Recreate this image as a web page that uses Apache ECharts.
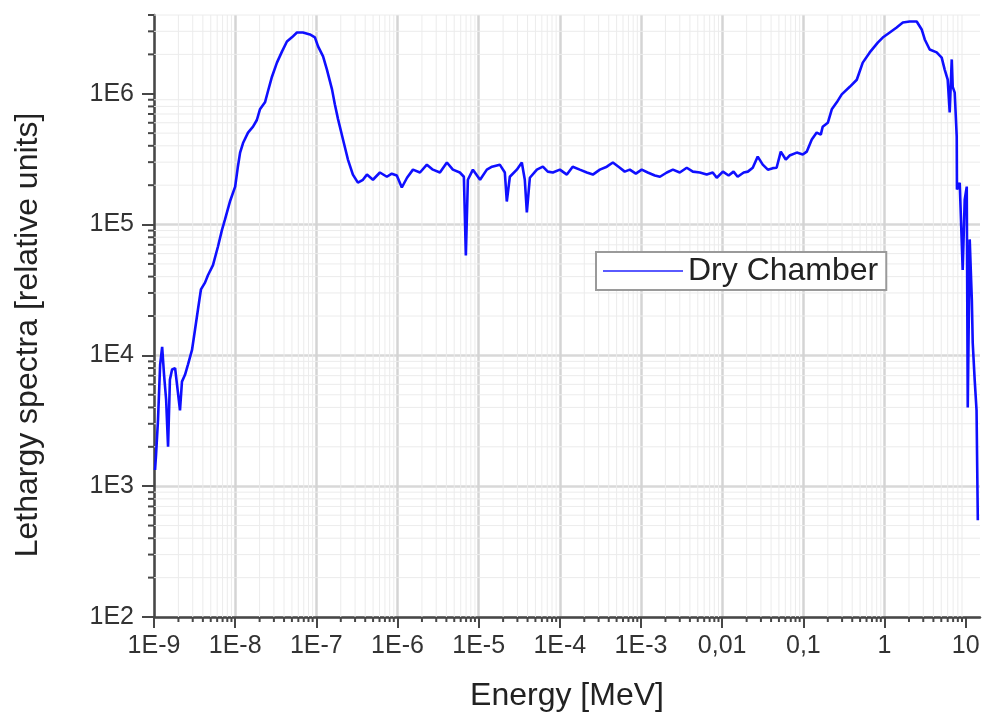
<!DOCTYPE html>
<html>
<head>
<meta charset="utf-8">
<script src="https://cdn.jsdelivr.net/npm/echarts@6/dist/echarts.min.js"></script>
<style>
html, body { margin: 0; padding: 0; background: #fff; }
#chart { width: 983px; height: 719px; }
</style>
</head>
<body>
<div id="chart"></div>
<script>
// Neutron lethargy spectrum, dry chamber
const energyMeV = [
  1.03e-9, 1.06e-9, 1.12e-9, 1.19e-9, 1.26e-9, 1.33e-9, 1.41e-9, 1.49e-9, 1.57e-9, 1.67e-9,
  1.82e-9, 1.92e-9, 2.09e-9, 2.21e-9, 2.41e-9, 2.62e-9, 2.94e-9, 3.2e-9, 3.48e-9, 3.79e-9,
  4.25e-9, 4.62e-9, 5.33e-9, 6.14e-9, 6.88e-9, 7.48e-9, 8.62e-9, 1.0e-8, 1.08e-8, 1.15e-8,
  1.25e-8, 1.44e-8, 1.66e-8, 1.85e-8, 2.02e-8, 2.33e-8, 2.53e-8, 2.84e-8, 3.27e-8, 3.77e-8,
  4.34e-8, 5.0e-8, 5.77e-8, 6.84e-8, 8.34e-8, 9.6e-8, 1.05e-7, 1.21e-7, 1.35e-7, 1.56e-7,
  1.69e-7, 1.85e-7, 2.13e-7, 2.45e-7, 2.82e-7, 3.25e-7, 3.75e-7, 4.2e-7, 4.98e-7, 6.07e-7,
  7.4e-7, 8.5e-7, 9.8e-7, 1.13e-6, 1.31e-6, 1.55e-6, 1.89e-6, 2.3e-6, 2.73e-6, 3.33e-6,
  4.06e-6, 4.81e-6, 5.86e-6, 6.57e-6, 6.95e-6, 7.36e-6, 8.49e-6, 1.04e-5, 1.26e-5, 1.46e-5,
  1.82e-5, 2.1e-5, 2.22e-5, 2.42e-5, 2.95e-5, 3.4e-5, 3.7e-5, 3.92e-5, 4.27e-5, 5.21e-5,
  6.18e-5, 7.1e-5, 8.2e-5, 1.0e-4, 1.22e-4, 1.44e-4, 1.76e-4, 2.15e-4, 2.55e-4, 3.11e-4,
  3.79e-4, 4.5e-4, 5.48e-4, 6.3e-4, 7.27e-4, 8.63e-4, 1.02e-3, 1.21e-3, 1.48e-3, 1.71e-3,
  2.08e-3, 2.47e-3, 3.0e-3, 3.66e-3, 4.35e-3, 5.3e-3, 6.45e-3, 7.65e-3, 8.57e-3, 1.02e-2,
  1.2e-2, 1.38e-2, 1.55e-2, 1.84e-2, 2.07e-2, 2.38e-2, 2.74e-2, 3.16e-2, 3.65e-2, 4.2e-2,
  4.68e-2, 5.27e-2, 6.07e-2, 6.76e-2, 8.3e-2, 9.84e-2, 0.110, 0.127, 0.146, 0.164,
  0.173, 0.20, 0.224, 0.258, 0.297, 0.373, 0.455, 0.539, 0.657, 0.825,
  0.95, 1.16, 1.41, 1.68, 2.04, 2.49, 2.87, 3.13, 3.6, 4.39,
  5.06, 5.51, 6.0, 6.35, 6.73, 6.92, 7.32, 7.75, 7.8, 8.44,
  9.18, 9.72, 10.3, 10.6, 11.2, 11.9, 12.2, 12.9, 13.6, 14.1
];
const lethargy = [
  1.33e3, 1.74e3, 3.2e3, 8.5e3, 1.16e4, 7.1e3, 4.6e3, 2.0e3, 6.5e3, 7.8e3,
  8.0e3, 6.0e3, 3.8e3, 6.3e3, 7.1e3, 8.5e3, 1.1e4, 1.57e4, 2.24e4, 3.2e4,
  3.6e4, 4.1e4, 4.9e4, 6.8e4, 9.1e4, 1.09e5, 1.5e5, 1.95e5, 2.77e5, 3.55e5,
  4.2e5, 5.05e5, 5.6e5, 6.3e5, 7.6e5, 8.6e5, 1.04e6, 1.35e6, 1.73e6, 2.1e6,
  2.51e6, 2.7e6, 2.94e6, 2.94e6, 2.84e6, 2.7e6, 2.3e6, 1.93e6, 1.53e6, 1.08e6,
  8.3e5, 6.4e5, 4.47e5, 3.14e5, 2.41e5, 2.09e5, 2.2e5, 2.41e5, 2.2e5, 2.5e5,
  2.32e5, 2.45e5, 2.37e5, 1.92e5, 2.28e5, 2.63e5, 2.5e5, 2.87e5, 2.63e5, 2.5e5,
  2.98e5, 2.63e5, 2.5e5, 2.32e5, 5.8e4, 2.2e5, 2.63e5, 2.2e5, 2.63e5, 2.77e5,
  2.87e5, 2.5e5, 1.5e5, 2.32e5, 2.63e5, 2.98e5, 2.2e5, 1.24e5, 2.28e5, 2.63e5,
  2.77e5, 2.54e5, 2.5e5, 2.63e5, 2.41e5, 2.77e5, 2.63e5, 2.5e5, 2.41e5, 2.63e5,
  2.77e5, 2.98e5, 2.72e5, 2.54e5, 2.63e5, 2.45e5, 2.63e5, 2.5e5, 2.37e5, 2.32e5,
  2.5e5, 2.63e5, 2.5e5, 2.72e5, 2.54e5, 2.5e5, 2.41e5, 2.5e5, 2.28e5, 2.54e5,
  2.37e5, 2.54e5, 2.32e5, 2.5e5, 2.54e5, 2.72e5, 3.31e5, 2.87e5, 2.63e5, 2.7e5,
  2.72e5, 3.61e5, 3.14e5, 3.37e5, 3.55e5, 3.43e5, 3.61e5, 4.47e5, 5.05e5, 4.87e5,
  5.6e5, 6.0e5, 7.6e5, 8.6e5, 9.9e5, 1.13e6, 1.28e6, 1.73e6, 2.07e6, 2.46e6,
  2.69e6, 2.94e6, 3.21e6, 3.5e6, 3.57e6, 3.57e6, 3.1e6, 2.6e6, 2.18e6, 2.07e6,
  1.89e6, 1.53e6, 1.28e6, 7.2e5, 1.83e6, 1.13e6, 1.02e6, 4.7e5, 1.85e5, 2.09e5,
  4.5e4, 1.55e5, 1.95e5, 4.0e3, 7.7e4, 2.66e4, 1.25e4, 6.5e3, 3.8e3, 5.5e2
];

// Axis ranges and decade tick labels
const xMin = 1e-9, xMax = 15;
const yMin = 1e2, yMax = 4e6;
const xTickValues = [1e-9, 1e-8, 1e-7, 1e-6, 1e-5, 1e-4, 1e-3, 1e-2, 1e-1, 1, 10];
const xTickLabels = ['1E-9', '1E-8', '1E-7', '1E-6', '1E-5', '1E-4', '1E-3', '0,01', '0,1', '1', '10'];
const yTickValues = [1e2, 1e3, 1e4, 1e5, 1e6];
const yTickLabels = ['1E2', '1E3', '1E4', '1E5', '1E6'];

const FONT = '"Liberation Sans", Arial, sans-serif';
const AXIS_COLOR = '#474747';
const LINE_COLOR = '#0f0fff';

// 2..9 subdivisions of each decade inside [lo, hi]
function decadeSubdivisions(lo, hi) {
  const out = [];
  for (let k = Math.floor(Math.log10(lo)); k <= Math.ceil(Math.log10(hi)); k++) {
    for (let m = 2; m <= 9; m++) {
      const v = m * Math.pow(10, k);
      if (v > lo * 1.0001 && v <= hi * 1.0001) out.push(v);
    }
  }
  return out;
}
const xMinor = decadeSubdivisions(xMin, xMax);
const yMinor = decadeSubdivisions(yMin, yMax);

function labelFor(values, labels) {
  return function (v) {
    for (let i = 0; i < values.length; i++) {
      if (Math.abs(Math.log10(v) - Math.log10(values[i])) < 1e-6) return labels[i];
    }
    return '';
  };
}

// faint minor grid line plus a short outward tick on the axis
function renderMinorX(params, api) {
  const v = api.value(0);
  const bot = api.coord([v, yMin]);
  const top = api.coord([v, yMax]);
  return {
    type: 'group',
    children: [
      { type: 'line', shape: { x1: bot[0], y1: bot[1], x2: top[0], y2: top[1] },
        style: { stroke: '#ececec', lineWidth: 1 } },
      { type: 'line', shape: { x1: bot[0], y1: bot[1], x2: bot[0], y2: bot[1] + 5 },
        style: { stroke: AXIS_COLOR, lineWidth: 2 } }
    ]
  };
}
function renderMinorY(params, api) {
  const v = api.value(1);
  const left = api.coord([xMin, v]);
  const right = api.coord([xMax, v]);
  return {
    type: 'group',
    children: [
      { type: 'line', shape: { x1: left[0], y1: left[1], x2: right[0], y2: right[1] },
        style: { stroke: '#ececec', lineWidth: 1 } },
      { type: 'line', shape: { x1: left[0], y1: left[1], x2: left[0] - 6, y2: left[1] },
        style: { stroke: AXIS_COLOR, lineWidth: 2 } }
    ]
  };
}

const chart = echarts.init(document.getElementById('chart'), null, { renderer: 'canvas' });
chart.setOption({
  animation: false,
  backgroundColor: '#fff',
  grid: { left: 154, right: 3, top: 15, bottom: 102, containLabel: false },
  legend: {
    data: [{ name: 'Dry Chamber', icon: 'rect' }],
    left: 596, top: 252,
    itemWidth: 80, itemHeight: 2,
    itemStyle: { color: '#5a5aff' },
    padding: [3, 8, 3, 7],
    borderColor: '#9a9a9a', borderWidth: 2, borderRadius: 0,
    backgroundColor: '#fff',
    textStyle: { fontSize: 32, fontFamily: FONT, color: '#222' }
  },
  xAxis: {
    type: 'log', logBase: 10, min: xMin, max: xMax,
    name: 'Energy [MeV]', nameLocation: 'middle', nameGap: 63,
    nameTextStyle: { fontSize: 32, fontFamily: FONT, color: '#222' },
    axisLine: { show: true, onZero: false, lineStyle: { color: AXIS_COLOR, width: 2.5 } },
    axisTick: { show: true, inside: false, length: 11, customValues: xTickValues,
      lineStyle: { color: AXIS_COLOR, width: 2 } },
    axisLabel: { customValues: xTickValues, formatter: labelFor(xTickValues, xTickLabels),
      fontSize: 25, fontFamily: FONT, color: '#333', margin: 17 },
    splitLine: { show: true, showMaxLine: false, lineStyle: { color: '#d4d4d4', width: 2.5 } },
    minorTick: { show: false }, minorSplitLine: { show: false }
  },
  yAxis: {
    type: 'log', logBase: 10, min: yMin, max: yMax,
    axisLine: { show: true, onZero: false, lineStyle: { color: AXIS_COLOR, width: 2.5 } },
    axisTick: { show: true, inside: false, length: 12, customValues: yTickValues,
      lineStyle: { color: AXIS_COLOR, width: 2 } },
    axisLabel: { customValues: yTickValues, formatter: labelFor(yTickValues, yTickLabels),
      fontSize: 25, fontFamily: FONT, color: '#333', margin: 20 },
    splitLine: { show: true, showMaxLine: false, lineStyle: { color: '#d8d8d8', width: 2.5 } },
    minorTick: { show: false }, minorSplitLine: { show: false }
  },
  graphic: [{
    type: 'text', x: 28, y: 335, rotation: Math.PI / 2,
    style: { text: 'Lethargy spectra [relative units]', fontSize: 32, fontFamily: FONT,
      fill: '#222', align: 'center', verticalAlign: 'middle' }
  }],
  series: [
    {
      type: 'custom', name: 'minorX', silent: true, clip: false, z: 1,
      renderItem: renderMinorX,
      data: xMinor.map(v => [v, yMin])
    },
    {
      type: 'custom', name: 'minorY', silent: true, clip: false, z: 1,
      renderItem: renderMinorY,
      data: yMinor.map(v => [xMin, v])
    },
    {
      type: 'line', name: 'Dry Chamber',
      data: energyMeV.map((e, i) => [e, lethargy[i]]),
      symbol: 'none', showSymbol: false, clip: true, z: 3,
      lineStyle: { color: LINE_COLOR, width: 2.6 },
      itemStyle: { color: LINE_COLOR }
    }
  ]
});
</script>
</body>
</html>
